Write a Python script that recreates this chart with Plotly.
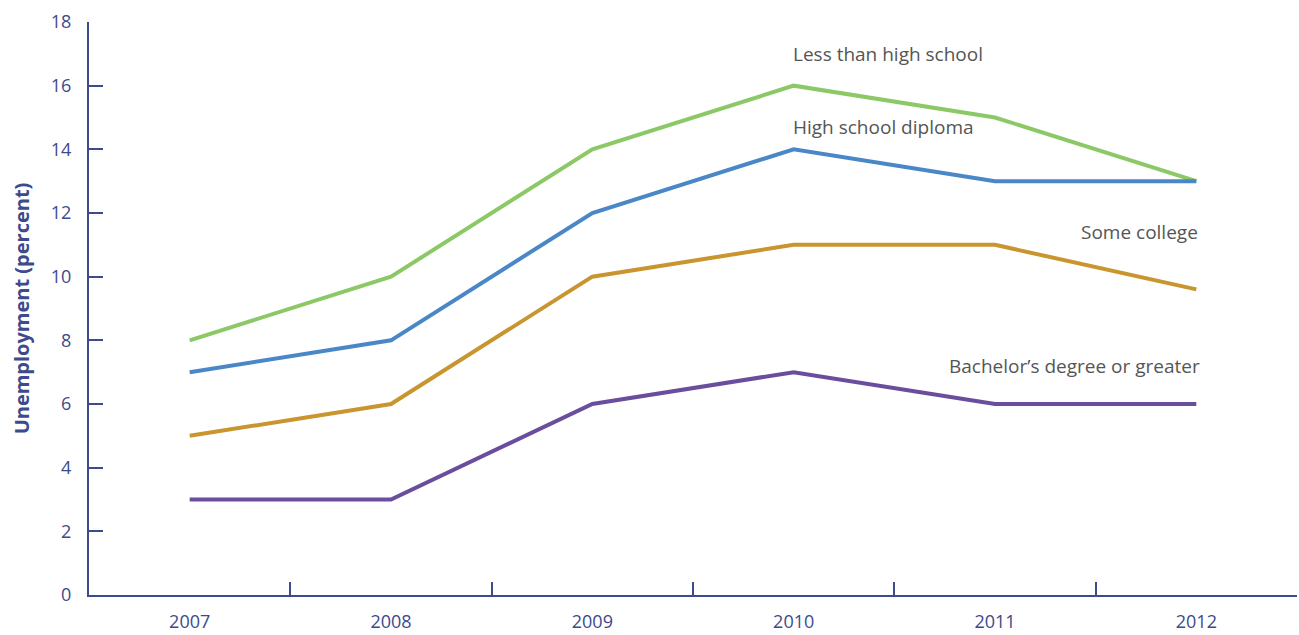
import plotly.graph_objects as go

years = ["2007", "2008", "2009", "2010", "2011", "2012"]
less_than_hs = [8, 10, 14, 16, 15, 13]
hs_diploma = [7, 8, 12, 14, 13, 13]
some_college = [5, 6, 10, 11, 11, 9.6]
bachelors = [3, 3, 6, 7, 6, 6]

series = [
    ("Less than high school", less_than_hs, "#8cc966"),
    ("High school diploma", hs_diploma, "#4a87c6"),
    ("Some college", some_college, "#c9952f"),
    ("Bachelor\u2019s degree or greater", bachelors, "#6b4d9e"),
]

axis_color = "#3d4a8c"
font_family = "Open Sans, Noto Sans, sans-serif"

fig = go.Figure()
for name, vals, color in series:
    fig.add_trace(go.Scatter(x=years, y=vals, mode="lines", name=name,
                             line=dict(color=color, width=4), showlegend=False))

label_color = "#555555"
lab_size = 19
idx_2010 = years.index("2010")
idx_2012 = years.index("2012")
fig.add_annotation(x=idx_2010, y=17.0, text="Less than high school", xanchor="left",
                   showarrow=False, xshift=-3, font=dict(size=lab_size, color=label_color, family=font_family))
fig.add_annotation(x=idx_2010, y=14.7, text="High school diploma", xanchor="left",
                   showarrow=False, xshift=-3, font=dict(size=lab_size, color=label_color, family=font_family))
fig.add_annotation(x=idx_2012, y=11.4, text="Some college", xanchor="right",
                   showarrow=False, xshift=4, font=dict(size=lab_size, color=label_color, family=font_family))
fig.add_annotation(x=idx_2012, y=7.2, text="Bachelor\u2019s degree or greater", xanchor="right",
                   showarrow=False, xshift=6, font=dict(size=lab_size, color=label_color, family=font_family))

fig.update_layout(
    width=1299, height=635,
    margin=dict(l=89, r=2, t=22, b=40),
    plot_bgcolor="white", paper_bgcolor="white",
    font=dict(family=font_family, color=axis_color),
    xaxis=dict(type="category", range=[-0.5, 5.5], showgrid=False, zeroline=False,
               automargin=False,
               showline=True, linecolor=axis_color, linewidth=2,
               tickson="boundaries", ticks="inside", ticklen=13, tickwidth=2, tickcolor=axis_color,
               tickfont=dict(size=18, color=axis_color, family=font_family),
               ticklabelstandoff=9),
    yaxis=dict(range=[0, 18], dtick=2, showgrid=False, zeroline=False,
               automargin=False,
               showline=True, linecolor=axis_color, linewidth=2,
               ticks="inside", ticklen=14, tickwidth=2, tickcolor=axis_color,
               tickfont=dict(size=18, color=axis_color, family=font_family),
               ticklabelstandoff=12,
               title=dict(text="<b>Unemployment (percent)</b>", standoff=16,
                          font=dict(size=20, color=axis_color, family=font_family))),
)

fig.write_html("out.html")
